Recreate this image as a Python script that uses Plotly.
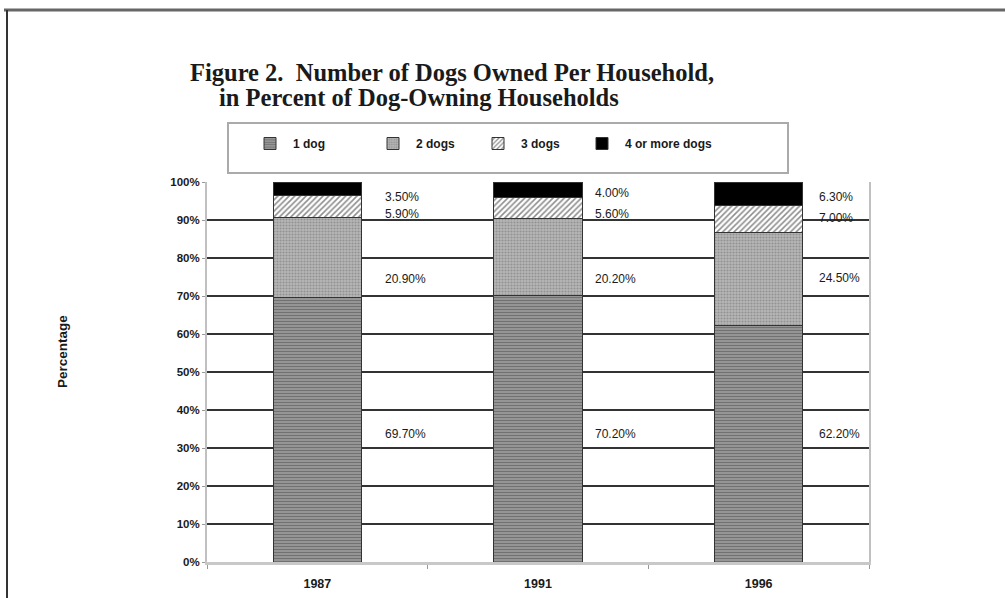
import plotly.graph_objects as go

# ---- data -------------------------------------------------------------
years = ["1987", "1991", "1996"]
series_names = ["1 dog", "2 dogs", "3 dogs", "4 or more dogs"]
one_dog = [69.7, 70.2, 62.2]
two_dogs = [20.9, 20.2, 24.5]
three_dogs = [5.9, 5.6, 7.0]
four_plus = [3.5, 4.0, 6.3]
y_ticks = [0, 10, 20, 30, 40, 50, 60, 70, 80, 90, 100]

series_values = [one_dog, two_dogs, three_dogs, four_plus]

# ---- page geometry (pixels) --------------------------------------------
W, H = 1005, 598
L, R, T, B = 207, 136, 182, 36
PW = W - L - R
PH = H - T - B


def px_x(px):
    return (px - L) / PW


def px_y(py):
    return (H - B - py) / PH


# ---- fills for each series ---------------------------------------------
fills = [
    dict(color="#8a8a8a",
         pattern=dict(shape="-", fgcolor="#4a4a4a", bgcolor="#999999", size=3, solidity=0.4)),
    dict(color="#a8a8a8",
         pattern=dict(shape=".", fgcolor="#6e6e6e", bgcolor="#b6b6b6", size=3, solidity=0.4)),
    dict(color="#ffffff",
         pattern=dict(shape="/", fgcolor="#1e1e1e", bgcolor="#ffffff", size=4, solidity=0.4)),
    dict(color="#000000"),
]
legend_widths = [72, 54, 53, 100]

# where the value labels sit: per year, horizontal offset from bar centre (px)
# and vertical position (axis units) for each series
label_dx = [66, 55, 58]
label_y = [
    [33.7, 74.5, 91.6, 96.0],
    [33.7, 74.5, 91.6, 97.1],
    [33.7, 74.7, 90.5, 96.0],
]

sans = "Liberation Sans, Arial, sans-serif"
serif = "Liberation Serif, Times New Roman, serif"

fig = go.Figure()
for name, vals, fill, lw in zip(series_names, series_values, fills, legend_widths):
    marker = dict(color=fill["color"], line=dict(color="#333333", width=1))
    if "pattern" in fill:
        marker["pattern"] = fill["pattern"]
    fig.add_trace(go.Bar(x=years, y=vals, name=name, marker=marker, legendwidth=lw))

annotations = []
for i, yr in enumerate(years):
    for j, vals in enumerate(series_values):
        annotations.append(dict(
            x=i, xref="x", y=label_y[i][j], yref="y",
            text=f"{vals[i]:.2f}%", showarrow=False,
            xanchor="left", yanchor="middle", xshift=label_dx[i],
            font=dict(family=sans, size=12, color="#1a1a1a"),
        ))

annotations += [
    dict(x=px_x(188), y=px_y(72), xref="paper", yref="paper",
         text="<b>Figure 2.&nbsp; Number of Dogs Owned Per Household,</b>",
         showarrow=False, xanchor="left", yanchor="middle",
         font=dict(family=serif, size=24.5, color="#1a1a1a")),
    dict(x=px_x(217), y=px_y(98), xref="paper", yref="paper",
         text="<b>in Percent of Dog-Owning Households</b>",
         showarrow=False, xanchor="left", yanchor="middle",
         font=dict(family=serif, size=24.5, color="#1a1a1a")),
    dict(x=px_x(62), y=px_y(352), xref="paper", yref="paper",
         text="<b>Percentage</b>", textangle=-90, showarrow=False,
         xanchor="center", yanchor="middle",
         font=dict(family=sans, size=13.5, color="#1a1a1a")),
]

shapes = [
    # page frame
    dict(type="line", xref="paper", yref="paper",
         x0=px_x(4), x1=px_x(1005), y0=px_y(10), y1=px_y(10),
         line=dict(color="#666666", width=3)),
    dict(type="line", xref="paper", yref="paper",
         x0=px_x(7), x1=px_x(7), y0=px_y(10), y1=px_y(598),
         line=dict(color="#333333", width=2)),
    # legend box
    dict(type="rect", xref="paper", yref="paper",
         x0=px_x(228), x1=px_x(788), y0=px_y(123), y1=px_y(173),
         line=dict(color="#aaaaaa", width=2), fillcolor="rgba(0,0,0,0)"),
]

fig.update_layout(
    width=W, height=H,
    margin=dict(l=L, r=R, t=T, b=B, pad=0, autoexpand=False),
    paper_bgcolor="white", plot_bgcolor="white",
    barmode="stack", bargap=0.6,
    showlegend=True,
    legend=dict(orientation="h", x=px_x(247), y=px_y(129),
                xanchor="left", yanchor="top", traceorder="normal",
                bgcolor="rgba(0,0,0,0)", borderwidth=0, itemwidth=36,
                font=dict(family=sans, size=12, color="#1a1a1a", weight="bold")),
    xaxis=dict(type="category", showgrid=False, showline=True, automargin=False,
               linecolor="#c8c8c8", linewidth=3,
               tickvals=years, ticktext=[f"<b>{y}</b>" for y in years],
               ticks="outside", tickson="boundaries", ticklen=4,
               tickcolor="#999999", tickwidth=1, ticklabelstandoff=8,
               tickfont=dict(family=sans, size=12.5, color="#1a1a1a")),
    yaxis=dict(range=[0, 100], tickvals=y_ticks, automargin=False,
               ticktext=[f"<b>{v}%</b>" for v in y_ticks],
               showgrid=True, gridcolor="#333333", gridwidth=2,
               zeroline=False, showline=True, mirror=True,
               linecolor="#c0c0c0", linewidth=2,
               ticks="outside", ticklen=3, tickcolor="#999999",
               tickfont=dict(family=sans, size=11.5, color="#1a1a1a")),
    annotations=annotations,
    shapes=shapes,
)

fig.write_html("out.html")
